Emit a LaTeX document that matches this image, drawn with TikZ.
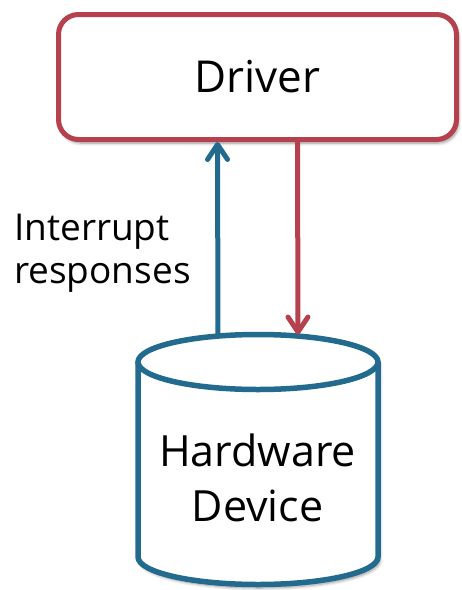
\documentclass[tikz,border=0pt]{standalone}
\usepackage{fontspec}
\setmainfont{Open Sans}
\usetikzlibrary{arrows.meta,shadows.blur}

\definecolor{drvred}{HTML}{B5404E}
\definecolor{hwblue}{HTML}{236B8E}

\tikzset{
  softshadow/.style={blur shadow={shadow xshift=2pt, shadow yshift=-3.5pt,
      shadow blur radius=3pt, shadow blur steps=8, shadow opacity=40}},
  drvbox/.style={draw=drvred, line width=5pt, fill=white, rounded corners=20pt,
      minimum width=398pt, minimum height=125pt, inner sep=0pt, softshadow,
      font=\fontsize{44}{54}\selectfont},
  cylline/.style={draw=hwblue, line width=5.5pt},
  tip/.style={-{Straight Barb[length=15pt, width=20pt, line cap=round, line join=round]},
      line width=5pt},
  upflow/.style={tip, draw=hwblue},
  downflow/.style={tip, draw=drvred},
  bodytext/.style={font=\fontsize{43}{55}\selectfont, align=center, inner sep=0pt},
  sidetext/.style={font=\fontsize{37}{43}\selectfont, align=left, inner sep=0pt}
}

\begin{document}
\begin{tikzpicture}[x=1pt, y=1pt]
  \useasboundingbox (0,0) rectangle (462,-590);

  % driver box
  \node[drvbox] (driver) at (257.5,-77) {\raisebox{-3pt}{Driver}};

  % hardware cylinder: body with shadow, then the top ellipse
  \coordinate (cyltop) at (258,-334.5);
  \fill[white, softshadow] (138,-362) -- (138,-557)
      arc[start angle=180, end angle=360, x radius=120, y radius=27.5]
      -- (378,-362)
      arc[start angle=0, end angle=180, x radius=120, y radius=27.5] -- cycle;
  \draw[cylline] (138,-362) -- (138,-557)
      arc[start angle=180, end angle=360, x radius=120, y radius=27.5]
      -- (378,-362);
  \draw[cylline] (258,-362) ellipse[x radius=120, y radius=27.5];
  \node[bodytext] (hw) at (257.5,-478) {Hardware\\Device};

  % flows between driver and device
  \draw[upflow] ([xshift=-40pt]cyltop) -- ([xshift=-40pt]driver.south);
  \draw[downflow] ([xshift=40pt]driver.south) -- ([xshift=40pt]cyltop);

  \node[sidetext, anchor=base west] (irq) at (14,-283) {Interrupt\\responses};
\end{tikzpicture}
\end{document}
